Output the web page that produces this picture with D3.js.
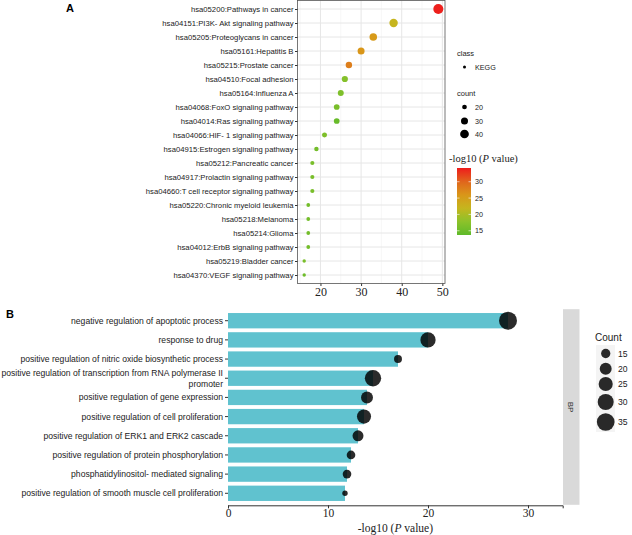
<!DOCTYPE html>
<html><head><meta charset="utf-8">
<script src="https://cdn.jsdelivr.net/npm/d3@7"></script>
<style>body{margin:0;background:#fff}svg{display:block}</style>
</head><body>
<svg id="c" width="632" height="535"></svg>
<script>
// ---------- Panel A data (KEGG) ----------
const keggTerms = [
 "hsa05200:Pathways in cancer","hsa04151:PI3K- Akt signaling pathway","hsa05205:Proteoglycans in cancer",
 "hsa05161:Hepatitis B","hsa05215:Prostate cancer","hsa04510:Focal adhesion","hsa05164:Influenza A",
 "hsa04068:FoxO signaling pathway","hsa04014:Ras signaling pathway","hsa04066:HIF- 1 signaling pathway",
 "hsa04915:Estrogen signaling pathway","hsa05212:Pancreatic cancer","hsa04917:Prolactin signaling pathway",
 "hsa04660:T cell receptor signaling pathway","hsa05220:Chronic myeloid leukemia","hsa05218:Melanoma",
 "hsa05214:Glioma","hsa04012:ErbB signaling pathway","hsa05219:Bladder cancer","hsa04370:VEGF signaling pathway"];
const keggCount = [49,38,33,30,27,26,25,24,24,21,19,18,18,18,17,17,17,17,16,16];
const keggLogP  = [34,22,25.5,26,28,17,16.5,16,14.5,16.5,15.5,16,16,16,15.5,15.5,15.5,15.5,16,15];
const keggXTicks = [20,30,40,50];
const keggSizeBreaks = [20,30,40];
const keggColorBreaks = [15,20,25,30];

// ---------- Panel B data (GO BP) ----------
const goTerms = [
 "negative regulation of apoptotic process","response to drug",
 "positive regulation of nitric oxide biosynthetic process",
 "positive regulation of transcription from RNA polymerase II promoter",
 "positive regulation of gene expression","positive regulation of cell proliferation",
 "positive regulation of ERK1 and ERK2 cascade","positive regulation of protein phosphorylation",
 "phosphatidylinositol- mediated signaling","positive regulation of smooth muscle cell proliferation"];
const goLogP  = [28,20,17,14.5,13.9,13.6,13,12.3,11.9,11.7];
const goCount = [36,28,13,31,20,25,18,14,14,10];
const goXTicks = [0,10,20,30];
const goSizeBreaks = [15,20,25,30,35];

const svg = d3.select("#c");
const sans = "'Liberation Sans', Arial, sans-serif";
const serif = "'Liberation Serif', 'Times New Roman', serif";

// ================= Panel A =================
const A = {l:297.5, r:445, t:0.5, b:283.5};
const xA = d3.scaleLinear().domain([14.35,50.65]).range([A.l, A.r]);
const yA = d3.scalePoint().domain(keggTerms).range([9,275]);
const areaA = d3.scaleLinear().domain([16,49]).range([2.9,25]);
const rA = c => Math.sqrt(Math.max(0.5, areaA(c)));
const colA = d3.scaleLinear().domain([13.7,18,22,26,30,34.2])
  .range(["#5fba2a","#8fc22a","#c6b51e","#d99619","#e0661c","#ee1c1c"]);

const gA = svg.append("g");
gA.append("rect").attr("x",A.l).attr("y",A.t).attr("width",A.r-A.l).attr("height",A.b-A.t).attr("fill","#fff");
[15,25,35,45].forEach(v=>gA.append("line").attr("x1",xA(v)).attr("x2",xA(v)).attr("y1",A.t).attr("y2",A.b)
  .attr("stroke","#f2f2f2").attr("stroke-width",0.6));
keggXTicks.forEach(v=>gA.append("line").attr("x1",xA(v)).attr("x2",xA(v)).attr("y1",A.t).attr("y2",A.b)
  .attr("stroke","#e6e6e6").attr("stroke-width",1));
keggTerms.forEach(t=>gA.append("line").attr("x1",A.l).attr("x2",A.r).attr("y1",yA(t)).attr("y2",yA(t))
  .attr("stroke","#e6e6e6").attr("stroke-width",1));
gA.selectAll("circle.pt").data(keggTerms).enter().append("circle")
  .attr("cx",(d,i)=>xA(keggCount[i])).attr("cy",d=>yA(d)).attr("r",(d,i)=>rA(keggCount[i]))
  .attr("fill",(d,i)=>colA(keggLogP[i]));
gA.append("rect").attr("x",A.l).attr("y",A.t).attr("width",A.r-A.l).attr("height",A.b-A.t)
  .attr("fill","none").attr("stroke","#555").attr("stroke-width",0.8);
const axAy = gA.append("g").attr("transform",`translate(${A.l},0)`).call(d3.axisLeft(yA).tickSize(2.5).tickPadding(1.5));
axAy.select(".domain").remove();
axAy.selectAll("line").attr("stroke","#333");
axAy.selectAll("text").attr("font-family",sans).attr("font-size",7.7).attr("fill","#222");
const axAx = gA.append("g").attr("transform",`translate(0,${A.b})`).call(d3.axisBottom(xA).tickValues(keggXTicks).tickSize(2.5).tickPadding(1));
axAx.select(".domain").remove();
axAx.selectAll("line").attr("stroke","#333");
axAx.selectAll("text").attr("font-family",serif).attr("font-size",12).attr("fill","#222");
svg.append("text").attr("x",66).attr("y",12).attr("font-family",sans).attr("font-weight","bold").attr("font-size",11).text("A");

// legend A
const lg = svg.append("g").attr("font-family",sans).attr("fill","#222");
lg.append("text").attr("x",457).attr("y",56).attr("font-size",7.5).text("class");
lg.append("circle").attr("cx",464.5).attr("cy",67).attr("r",1.5).attr("fill","#000");
lg.append("text").attr("x",475).attr("y",69.7).attr("font-size",7.2).text("KEGG");
lg.append("text").attr("x",457).attr("y",96).attr("font-size",7.5).text("count");
const sizeY = [107,121,134];
keggSizeBreaks.forEach((b,i)=>{
  lg.append("circle").attr("cx",464.5).attr("cy",sizeY[i]).attr("r",rA(b)).attr("fill","#000");
  lg.append("text").attr("x",475).attr("y",sizeY[i]+2.6).attr("font-size",7.2).text(b);
});
const lt = lg.append("text").attr("x",449).attr("y",162).attr("font-family",serif).attr("font-size",10.5);
lt.append("tspan").text("-log10 (");
lt.append("tspan").attr("font-style","italic").text("P");
lt.append("tspan").text(" value)");
const cbY = d3.scaleLinear().domain([13.7,34.2]).range([235,168]);
const defs = svg.append("defs");
const grad = defs.append("linearGradient").attr("id","cb").attr("x1",0).attr("x2",0).attr("y1",1).attr("y2",0);
d3.range(0,1.0001,0.05).forEach(f=>grad.append("stop").attr("offset",f).attr("stop-color",colA(13.7+f*(34.2-13.7))));
lg.append("rect").attr("x",457).attr("y",168).attr("width",14).attr("height",67).attr("fill","url(#cb)");
keggColorBreaks.forEach(b=>{
  lg.append("line").attr("x1",457).attr("x2",459.5).attr("y1",cbY(b)).attr("y2",cbY(b)).attr("stroke","#fff").attr("stroke-width",0.6);
  lg.append("line").attr("x1",468.5).attr("x2",471).attr("y1",cbY(b)).attr("y2",cbY(b)).attr("stroke","#fff").attr("stroke-width",0.6);
  lg.append("text").attr("x",475).attr("y",cbY(b)+2.6).attr("font-size",7.2).text(b);
});

// ================= Panel B =================
const B = {l:228, r:562.7, t:309.2, b:504.8};
const xB = d3.scaleLinear().domain([0,33.47]).range([B.l,B.r]);
const yB = d3.scaleBand().domain(goTerms).range([B.t,B.b]).paddingInner(0.2).paddingOuter(0.2);
const areaB = d3.scaleLinear().domain([10,36]).range([7.29,81]);
const rB = c => Math.sqrt(areaB(c));
const gB = svg.append("g");
gB.selectAll("rect.bar").data(goTerms).enter().append("rect")
  .attr("x",xB(0)).attr("y",d=>yB(d)).attr("width",(d,i)=>xB(goLogP[i])-xB(0)).attr("height",yB.bandwidth())
  .attr("fill","#60c2cf");
gB.selectAll("circle.pt").data(goTerms).enter().append("circle")
  .attr("cx",(d,i)=>xB(goLogP[i])).attr("cy",d=>yB(d)+yB.bandwidth()/2).attr("r",(d,i)=>rB(goCount[i]))
  .attr("fill","#000").attr("fill-opacity",0.83);
const axBx = gB.append("g").attr("transform",`translate(0,${B.b+0.5})`).call(d3.axisBottom(xB).tickValues(goXTicks).tickSize(3).tickPadding(1));
axBx.select(".domain").attr("stroke","#333").attr("stroke-width",1);
axBx.selectAll("line").attr("stroke","#333");
axBx.selectAll("text").attr("font-family",serif).attr("font-size",11.5).attr("fill","#222");
const xt = gB.append("text").attr("x",(B.l+B.r)/2).attr("y",531.5).attr("text-anchor","middle").attr("font-family",serif).attr("font-size",11.5).attr("fill","#222");
xt.append("tspan").text("-log10 (");
xt.append("tspan").attr("font-style","italic").text("P");
xt.append("tspan").text(" value)");
const yAxB = gB.append("g");
goTerms.forEach(t=>{
  const cy = yB(t)+yB.bandwidth()/2;
  yAxB.append("line").attr("x1",B.l-3).attr("x2",B.l).attr("y1",cy).attr("y2",cy).attr("stroke","#333");
  const txt = yAxB.append("text").attr("x",B.l-5).attr("y",cy+3).attr("text-anchor","end")
    .attr("font-family",sans).attr("font-size",8.6).attr("fill","#222").text(t);
  if (txt.node().getComputedTextLength() > 224) {
    const words = t.split(" "); let line = []; const lines = [];
    txt.text("");
    words.forEach(w=>{
      const trial = line.concat([w]).join(" ");
      txt.text(trial);
      if (txt.node().getComputedTextLength() > 224 && line.length) { lines.push(line.join(" ")); line=[w]; }
      else line.push(w);
    });
    lines.push(line.join(" "));
    txt.text("");
    const lh = 10.6;
    lines.forEach((ln,k)=>txt.append("tspan").attr("x",B.l-5).attr("y",cy+3+(k-(lines.length-1)/2)*lh).text(ln));
  }
});
gB.append("rect").attr("x",563).attr("y",B.t).attr("width",16.5).attr("height",B.b-B.t).attr("fill","#d9d9d9");
gB.append("text").attr("transform",`translate(568,${(B.t+B.b)/2}) rotate(90)`).attr("text-anchor","middle")
  .attr("font-family",sans).attr("font-size",8).attr("fill","#333").text("BP");
svg.append("text").attr("x",6).attr("y",318).attr("font-family",sans).attr("font-weight","bold").attr("font-size",11).text("B");

// legend B
const lB = svg.append("g").attr("font-family",sans).attr("fill","#222");
lB.append("text").attr("x",595).attr("y",341).attr("font-size",10).text("Count");
const keyY = [353.5,368.7,384,402,422];
lB.append("rect").attr("x",596).attr("y",345).attr("width",19).attr("height",87).attr("fill","#f4f4f4");
goSizeBreaks.forEach((b,i)=>{
  lB.append("circle").attr("cx",605.7).attr("cy",keyY[i]).attr("r",rB(b)).attr("fill","#000").attr("fill-opacity",0.83);
  lB.append("text").attr("x",618).attr("y",keyY[i]+3).attr("font-size",8.6).text(b);
});
</script>
</body></html>
